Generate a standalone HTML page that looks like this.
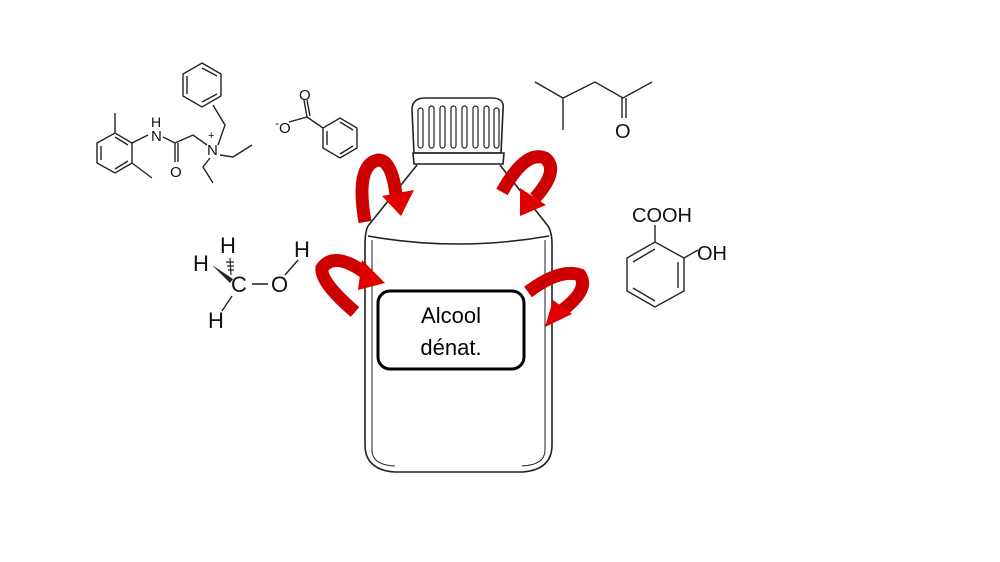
<!DOCTYPE html>
<html><head><style>
body{margin:0;background:#fff;width:1000px;height:562px;overflow:hidden}
svg{position:absolute;left:0;top:0}
text{font-family:"Liberation Sans",sans-serif}
</style></head><body>
<svg width="1000" height="562" viewBox="0 0 1000 562">
<g fill="none" stroke="#222" stroke-width="1.6">
<path d="M417,165 L368,226 Q365,232 365,245 L365,445 Q365,470 395,472 L522,472 Q552,470 552,445 L552,245 Q552,232 548,226 L500,165"/>
<path d="M368,236 Q458,252 549,236"/>
<path d="M372,240 L372,450 Q372,465 395,466" stroke-width="1"/>
<path d="M545,240 L545,450 Q545,465 522,466" stroke-width="1"/>
<path d="M414,153 L412,110 Q412,98 425,98 L492,98 Q505,98 503,110 L501,153 Z"/>
<path d="M413,153 L504,153 L503,164 L414,164 Z"/>
<g stroke-width="1.2">
<rect x="418" y="108" width="5" height="40" rx="2.5"/><rect x="429" y="106" width="5" height="42" rx="2.5"/>
<rect x="440" y="106" width="5" height="42" rx="2.5"/><rect x="451" y="106" width="5" height="42" rx="2.5"/>
<rect x="462" y="106" width="5" height="42" rx="2.5"/><rect x="473" y="106" width="5" height="42" rx="2.5"/>
<rect x="484" y="106" width="5" height="42" rx="2.5"/><rect x="494" y="108" width="5" height="40" rx="2.5"/>
</g>
</g>
<rect x="378" y="291" width="146" height="78" rx="12" fill="#fff" stroke="#000" stroke-width="3"/>
<text x="451" y="323" font-size="22" text-anchor="middle">Alcool</text>
<text x="451" y="355" font-size="22" text-anchor="middle">dénat.</text>
<!-- arrows -->
<g fill="none" stroke="#cc0000" stroke-width="13">
<path d="M365,222 Q355,165 378,160 Q392,160 396,195"/>
<path d="M502,192 Q525,150 545,158 Q560,170 535,198"/>
<path d="M355,312 Q320,282 322,268 Q335,250 368,275"/>
<path d="M528,292 Q560,268 580,275 Q590,290 560,312"/>
</g>
<g fill="#e00000">
<polygon points="382,196 414,190 401,216"/>
<polygon points="520,188 546,205 520,216"/>
<polygon points="362,260 385,283 358,290"/>
<polygon points="553,300 572,314 545,327"/>
</g>
<!-- molecules -->
<g fill="none" stroke="#222" stroke-width="1.4">
<path d="M97,143 L115,133 L132,143 L132,163 L115,173 L97,163 Z M101,146 L101,160 M115,137 L128,145 M115,169 L128,161"/>
<path d="M115,133 L115,113 M132,163 L152,178 M132,143 L148,135"/>
<path d="M163,137 L175,143 L193,135 L207,145 M175,143 L175,162 M178,143 L178,162"/>
<path d="M218,145 L225,125 L213,105 M220,155 L233,157 L252,145 M210,158 L203,167 L213,183"/>
<path d="M202,63 L221,74 L221,96 L202,107 L183,96 L183,74 Z M187,76 L187,94 M202,68 L217,76 M217,94 L202,102"/>
<path d="M289,122 L307,117 L304,100 M310,116 L307,100 M307,117 L323,128"/>
<path d="M323,128 L340,118 L357,128 L357,148 L340,158 L323,148 Z M327,131 L327,145 M340,122 L353,130 M353,146 L340,154"/>
<path d="M535,82 L563,98 L563,130 M563,98 L595,82 L623,98 L652,82 M622,98 L622,118 M626,98 L626,118"/>
<path d="M627,258 L655,242 L684,258 L684,291 L655,307 L627,291 Z M633,262 L655,249 M678,288 L678,262 M633,288 L655,301"/>
<path d="M655,242 L655,225 M684,258 L698,250"/>
<path d="M252,284 L268,284 M285,275 L298,260 M232,296 L222,311"/>
</g>
<polygon points="212,265 233,279 230,283" fill="#222"/>
<g stroke="#222" stroke-width="1.2"><path d="M230,258 L231,275 M226,262 L234,262 M227,266 L234,266 M228,270 L234,270"/></g>
<g font-size="15" fill="#111">
<text x="151" y="141">N</text><text x="151" y="127" font-size="14">H</text>
<text x="170" y="177">O</text>
<text x="207" y="155">N</text><text x="208" y="139" font-size="11">+</text>
<text x="275" y="127" font-size="12">-</text><text x="279" y="133">O</text>
<text x="299" y="100">O</text>
<text x="615" y="138" font-size="20">O</text>
<text x="632" y="222" font-size="20">COOH</text>
<text x="697" y="260" font-size="20">OH</text>
<text x="220" y="253" font-size="22">H</text>
<text x="193" y="271" font-size="22">H</text>
<text x="231" y="292" font-size="22">C</text>
<text x="271" y="292" font-size="22">O</text>
<text x="294" y="257" font-size="22">H</text>
<text x="208" y="328" font-size="22">H</text>
</g>
</svg>
</body></html>
